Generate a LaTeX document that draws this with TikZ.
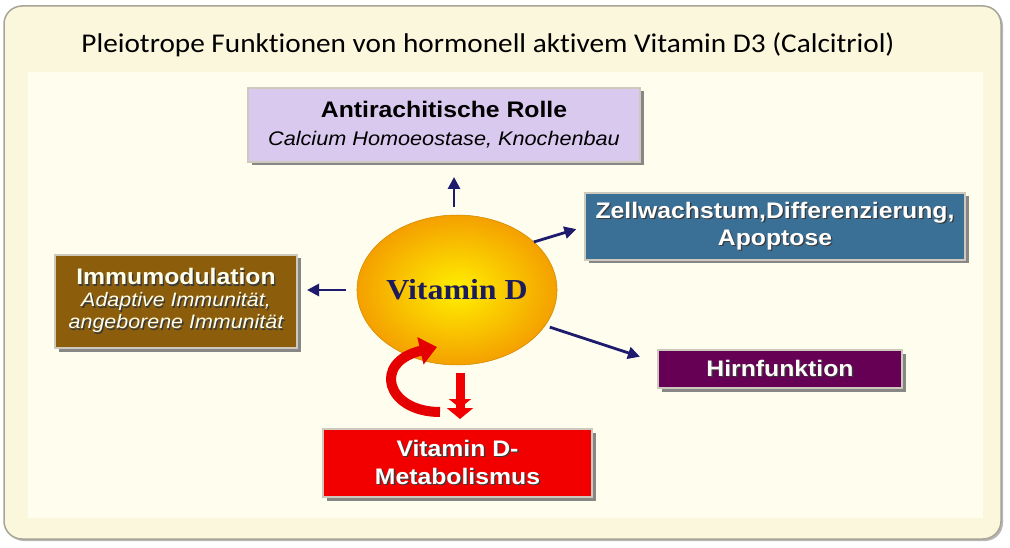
\documentclass[tikz,border=0pt]{standalone}
\usepackage{fontspec}
\setmainfont{Liberation Sans}[FakeStretch=1.1]
\newfontfamily\titlefont{Carlito}[FakeStretch=1.08,Ligatures=NoCommon]
\newfontfamily\vdfont{Liberation Serif}[FakeStretch=1.1]
\usetikzlibrary{shadows,arrows.meta,shapes.geometric}
\definecolor{framefill}{HTML}{FBF7DC}
\definecolor{innerfill}{HTML}{FFFEEE}
\definecolor{frameedge}{HTML}{A8A496}
\definecolor{lavender}{HTML}{D9C9EF}
\definecolor{steel}{HTML}{3A6F96}
\definecolor{ochre}{HTML}{8C5E0C}
\definecolor{plum}{HTML}{660054}
\definecolor{bred}{HTML}{F20000}
\definecolor{navy}{HTML}{1E1A6E}
\definecolor{vdin}{HTML}{FFF000}
\definecolor{vdout}{HTML}{F4A000}
\definecolor{vdtext}{HTML}{1C1C5C}
\definecolor{boxedge}{HTML}{CFC8BC}
\definecolor{txtshadow}{HTML}{3A3A3A}
\definecolor{arrowred}{HTML}{E40000}
\newcommand\shd[1]{\leavevmode\rlap{\kern1.3pt\raisebox{-1.3pt}{\textcolor{txtshadow}{#1}}}#1}
\begin{document}
\begin{tikzpicture}[x=1pt,y=-1pt,
  boxnode/.style={draw=boxedge, line width=1.6pt, inner sep=0pt, outer sep=0pt, align=center,
     drop shadow={shadow xshift=3.5pt, shadow yshift=-3.5pt, fill=black!55, opacity=0.85},
     font=\fontsize{22.5}{28}\selectfont},
  navyarrow/.style={draw=navy, line width=2.8pt, -{Triangle[length=12pt,width=12pt]}},
  redarrow/.style={draw=bred, line width=8pt}
]
\useasboundingbox (0,0) rectangle (1010,548);
\fill[white] (0,0) rectangle (1010,548);
% frame
\path[fill=framefill, draw=frameedge, line width=1.5pt, rounded corners=18pt,
  drop shadow={shadow xshift=2pt, shadow yshift=-2pt, fill=black!40, opacity=0.7}]
  (4,6) rectangle (1001,539);
\fill[innerfill] (28,72) rectangle (983,518);
% title
\node[font=\titlefont\fontsize{27.1}{30}\selectfont, text=black] (title) at (488,45)
  {Pleiotrope Funktionen von hormonell aktivem Vitamin D3 (Calcitriol)};
% boxes
\node[boxnode, fill=lavender, text=black, minimum width=392pt, minimum height=74pt] (anti) at (444,125)
  {\textbf{Antirachitische Rolle}\\\fontsize{19.7}{28}\selectfont\itshape Calcium Homoeostase, Knochenbau};
\node[boxnode, fill=steel, text=white, minimum width=380pt, minimum height=67pt, font=\bfseries\fontsize{22.5}{27}\selectfont] (zell) at (775,226.5)
  {\shd{Zellwachstum,Differenzierung,}\\\shd{Apoptose}};
\node[boxnode, fill=ochre, text=white!92!yellow, minimum width=242pt, minimum height=93pt, font=\fontsize{22.5}{22}\selectfont] (immu) at (176,301.5)
  {\bfseries\shd{Immumodulation}\\\fontsize{19.5}{21.5}\selectfont\itshape\shd{Adaptive Immunität,}\\\fontsize{19.5}{21.5}\selectfont\itshape\shd{angeborene Immunität}};
\node[boxnode, fill=plum, text=white!92!pink, minimum width=244pt, minimum height=38pt, font=\bfseries\fontsize{22.5}{26}\selectfont] (hirn) at (780,369)
  {\shd{Hirnfunktion}};
\node[boxnode, fill=bred, text=white, minimum width=269pt, minimum height=68pt, font=\bfseries\fontsize{22.5}{28}\selectfont] (meta) at (457.5,463)
  {\shd{Vitamin D-}\\\shd{Metabolismus}};
% central ellipse
\node[ellipse, minimum width=171pt, minimum height=150pt, inner sep=0pt, outer sep=0pt,
  inner color=vdin, outer color=vdout, draw=vdout!85!black, line width=0.5pt,
  font=\vdfont\bfseries\fontsize{29}{32}\selectfont, text=vdtext] (vd) at (457,290) {Vitamin D};
% navy arrows
\draw[navyarrow, shorten <=8pt, shorten >=15pt] ([xshift=-3pt]vd.north) -- ([xshift=-3pt]vd.north |- anti.south);
\draw[navyarrow, shorten >=9pt] (vd.32) -- (zell.west);
\draw[navyarrow, shorten <=11pt, shorten >=10pt] (vd.west) -- (vd.west -| immu.east);
\draw[navyarrow, shorten <=5pt, shorten >=19pt] (vd.-22) -- (hirn.177);
% red arrows
\draw[redarrow, line width=9pt, shorten <=8pt, shorten >=10pt,
  -{Triangle[length=9pt,width=22pt] Triangle[length=11pt,width=26pt]}]
  ([xshift=3pt]vd.south) -- ([xshift=3pt]vd.south |- meta.north);
\coordinate (ctail) at (440,412);
\coordinate (chead) at (437,347);
\draw[draw=arrowred, line width=10pt, -{Triangle[length=17pt,width=27pt]}]
  (ctail) .. controls (386,412) and (372,362) .. (chead);
\end{tikzpicture}
\end{document}
